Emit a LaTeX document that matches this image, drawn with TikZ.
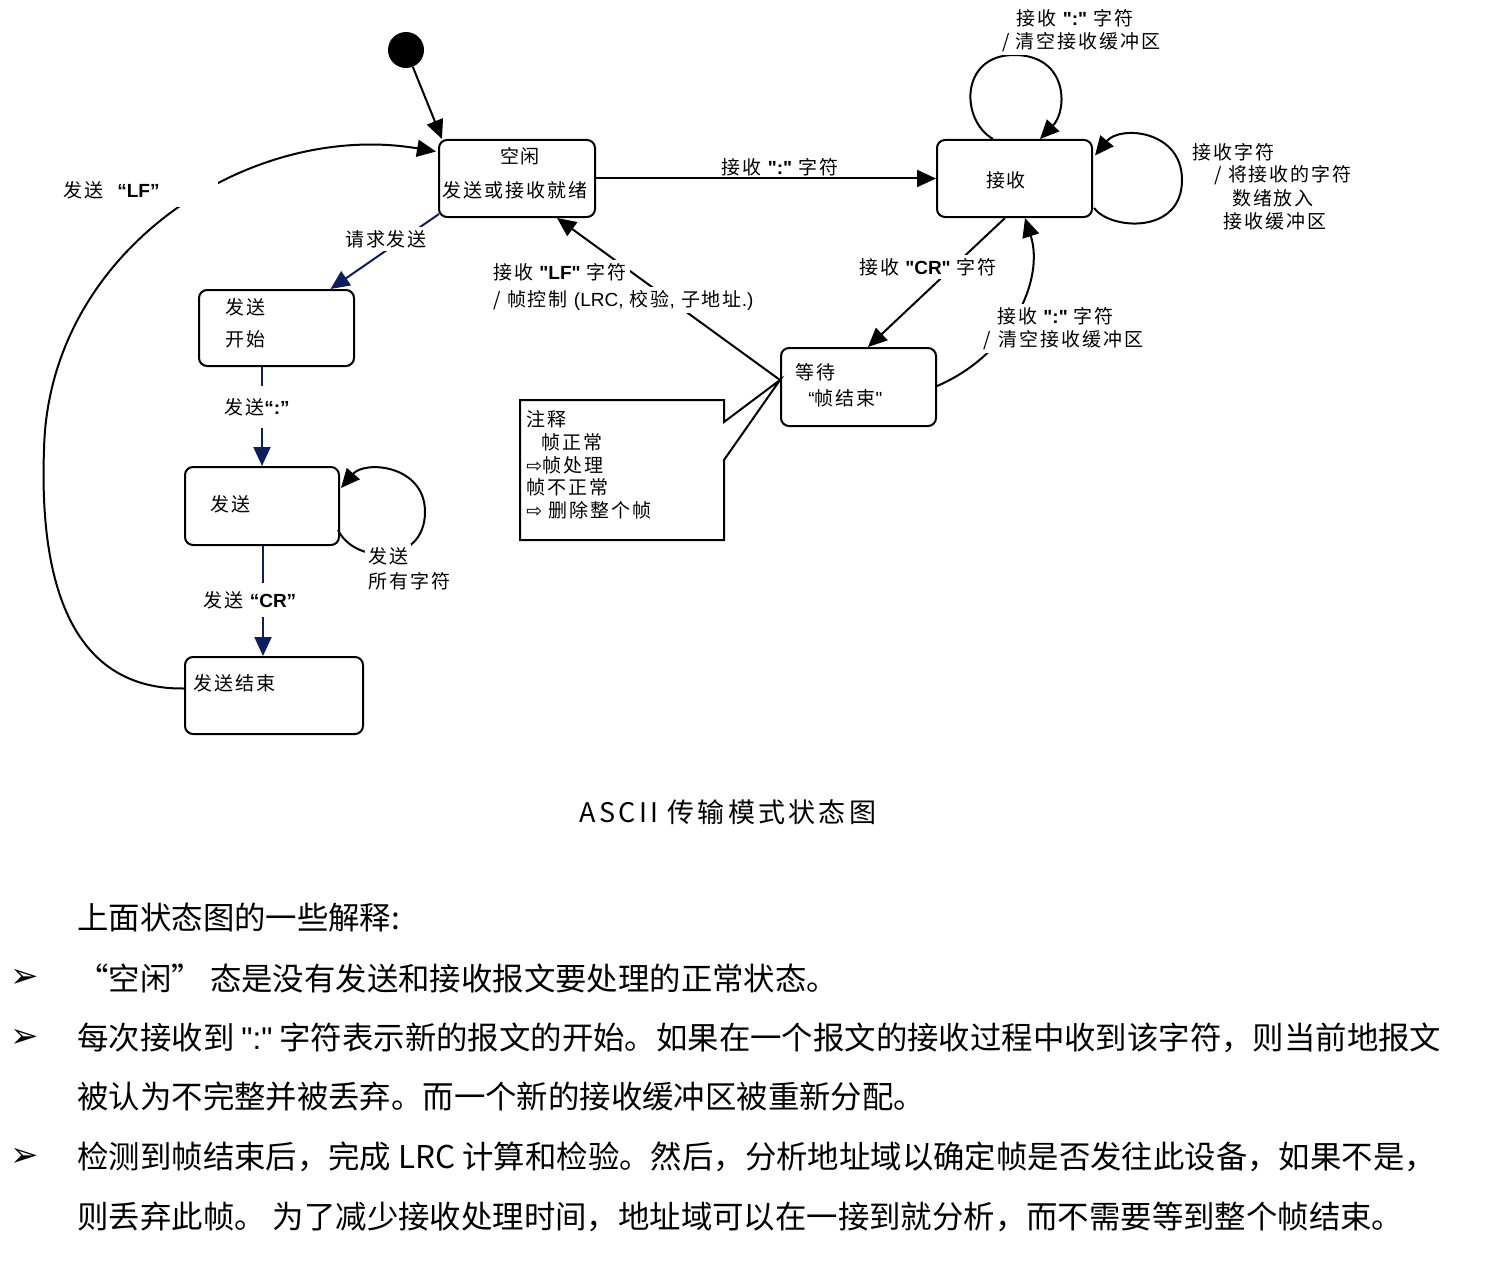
\documentclass[tikz,border=0pt]{standalone}
\usepackage{fontspec}
\setmainfont{Noto Sans CJK SC}
\newfontfamily\dgm{Noto Sans CJK SC}[LetterSpace=10]
\newfontfamily\capf{Noto Sans CJK SC}[LetterSpace=12]
\newfontfamily\arf{Liberation Sans}
\newfontfamily\dvf{DejaVu Sans}
\usetikzlibrary{arrows.meta,calc}
\definecolor{navyblue}{RGB}{12,30,95}
\newcommand\lb[1]{{\arf\bfseries #1}}
\newcommand\la[1]{{\arf #1}}
\tikzset{
  box/.style={draw, line width=1pt, rounded corners=4pt, inner sep=0pt},
  lbl/.style={font=\dgm\fontsize{9.5}{11.5}\selectfont, inner sep=1.5pt},
  wl/.style={lbl, fill=white},
  arr/.style={line width=1pt, -{Triangle[length=9.5pt,width=8.5pt]}},
  narr/.style={arr, draw=navyblue},
  body/.style={font=\fontsize{15.7}{18}\selectfont, anchor=west, inner sep=0pt},
  bul/.style={font=\dvf\fontsize{17}{19}\selectfont, inner sep=0pt}
}
\begin{document}
\begin{tikzpicture}[x=0.5pt,y=-0.5pt]
\fill[white] (0,0) rectangle (1500,1263);
\useasboundingbox (0,0) rectangle (1500,1263);

% states
\node[circle, fill=black, minimum size=18pt, inner sep=0pt] (init) at (406,50) {};
\node[box, minimum width=78pt, minimum height=38.5pt] (idle) at (517,178.5) {};
\node[box, minimum width=77.5pt, minimum height=38.5pt] (recv) at (1014.5,178.5) {};
\node[box, minimum width=77.5pt, minimum height=38pt] (sstart) at (276.5,328) {};
\node[box, minimum width=77pt, minimum height=39pt] (send) at (262,506) {};
\node[box, minimum width=89pt, minimum height=38.5pt] (sendend) at (274,695.5) {};
\node[box, minimum width=77.5pt, minimum height=39pt] (wait) at (858.5,387) {};

% state texts
\node[lbl] (idleA) at (520,156) {空闲};
\node[lbl] (idleB) at (515,190) {发送或接收就绪};
\node[lbl] (recvT) at (1006,180) {接收};
\node[lbl, anchor=west] (ssA) at (222,307) {发送};
\node[lbl, anchor=west] (ssB) at (222,339) {开始};
\node[lbl, anchor=west] (sendT) at (207,504) {发送};
\node[lbl, anchor=west] (seT) at (190,683) {发送结束};
\node[lbl, anchor=west] (waitA) at (792,372) {等待};
\node[lbl, anchor=west] (waitB) at (805,398) {\la{“}帧结束\la{"}};

% note
\coordinate (tip) at ($(wait.west)+(0,-7)$);
\draw[line width=1pt] (520,400) -- (724,400) -- (724,422) -- (tip) -- (724,460) -- (724,540) -- (520,540) -- cycle;
\node[lbl, anchor=west] (n1) at (523,419) {注释};
\node[lbl, anchor=west] (n2) at (538,442) {帧正常};
\node[lbl, anchor=west] (n3) at (523,465) {{\dvf ⇨}帧处理};
\node[lbl, anchor=west] (n4) at (523,487) {帧不正常};
\node[lbl, anchor=west] (n5) at (523,510) {{\dvf ⇨} 删除整个帧};

% transitions
\draw[arr] (init) -- ($(idle.north west)+(4,0)$);
\draw[arr] (idle.east) -- (recv.west);
\node[lbl] (lIR) at (780,167) {接收 \lb{":"} 字符};

\draw[narr] ($(idle.south west)+(1,-4)$) -- ($(sstart.north)+(54,0)$);
\node[wl] (lReq) at (386,239) {请求发送};

\draw[narr] (sstart.south -| send.north) -- (send.north);
\node[wl, inner ysep=6pt] (lColon) at (257,407) {发送\lb{“:”}};

\draw[narr] ($(send.south)+(1,0)$) -- ($(sendend.north)+(-11,0)$);
\node[wl, inner ysep=4pt] (lCR) at (250,600) {发送 \lb{“CR”}};

\draw[arr] ($(sendend.west)+(0,-7)$) .. controls (60,690) and (40,560) .. (44,450)
   .. controls (48,250) and (250,120) .. ($(idle.west)+(-2,-27)$);
\node[wl, anchor=west, text width=76pt, align=left, inner ysep=4pt] (lLF) at (60,190) {发送\hspace{7pt}\lb{“LF”}};

\draw[arr] ($(send.east)+(-2,24)$) .. controls (355,565) and (425,565) .. (425,512)
   .. controls (425,465) and (365,460) .. ($(send.east)+(1,-18)$);
\node[wl, anchor=west] (lAll1) at (365,556) {发送};
\node[lbl, anchor=west] (lAll2) at (365,581) {所有字符};

\draw[arr] ($(recv.north)+(-21.5,0)$) .. controls (960,120) and (960,55) .. (1014,55)
   .. controls (1068,55) and (1068,110) .. ($(recv.north)+(25.5,0)$);
\node[lbl] (lTop1) at (1075,18) {接收 \lb{":"} 字符};
\node[wl] (lTop2) at (1081,42) {/ 清空接收缓冲区};

\draw[arr] ($(recv.east)+(1,29.5)$) .. controls (1110,230) and (1182,235) .. (1182,180)
   .. controls (1182,130) and (1120,125) .. ($(recv.east)+(2,-23)$);
\node[lbl, anchor=west] (lR1) at (1189,152) {接收字符};
\node[lbl, anchor=west] (lR2) at (1211,175) {/ 将接收的字符};
\node[lbl] (lR3) at (1273,198) {数绪放入};
\node[lbl] (lR4) at (1275,221) {接收缓冲区};

\draw[arr] ($(recv.south)+(-9.5,0)$) -- ($(wait.north)+(9.5,0)$);
\node[wl] (lCR2) at (928,267) {接收 \lb{"CR"} 字符};

\draw[arr] ($(wait.east)+(0,-1)$) .. controls (1010,355) and (1045,280) .. ($(recv.south)+(10.5,0)$);
\node[wl, anchor=west] (lWR1) at (994,316) {接收 \lb{":"} 字符};
\node[wl, anchor=west] (lWR2) at (980,340) {/\hspace{4pt}清空接收缓冲区};

\draw[arr] (tip) -- ($(idle.south)+(40,0)$);
\node[wl, anchor=west] (lLF1) at (490,272) {接收 \lb{"LF"} 字符};
\node[wl, anchor=west] (lLF2) at (490,300) {/ 帧控制 \la{(LRC,} 校验\la{,} 子地址\la{.)}};

% caption
\node[font=\capf\fontsize{13.5}{16}\selectfont] (cap) at (728,812) {ASCII 传输模式状态图};

% explanation
\node[body] (h) at (77,918) {上面状态图的一些解释:};
\node[bul] (b1) at (25,978) {➢};
\node[body] (t1) at (77,978) {“空闲” 态是没有发送和接收报文要处理的正常状态。};
\node[bul] (b2) at (25,1038) {➢};
\node[body] (t2) at (77,1038) {每次接收到 \la{":"} 字符表示新的报文的开始。如果在一个报文的接收过程中收到该字符，则当前地报文};
\node[body] (t3) at (77,1097) {被认为不完整并被丢弃。而一个新的接收缓冲区被重新分配。};
\node[bul] (b3) at (25,1157) {➢};
\node[body] (t4) at (77,1157) {检测到帧结束后，完成 LRC 计算和检验。然后，分析地址域以确定帧是否发往此设备，如果不是，};
\node[body] (t5) at (77,1217) {则丢弃此帧。 为了减少接收处理时间，地址域可以在一接到就分析，而不需要等到整个帧结束。};
\end{tikzpicture}
\end{document}
